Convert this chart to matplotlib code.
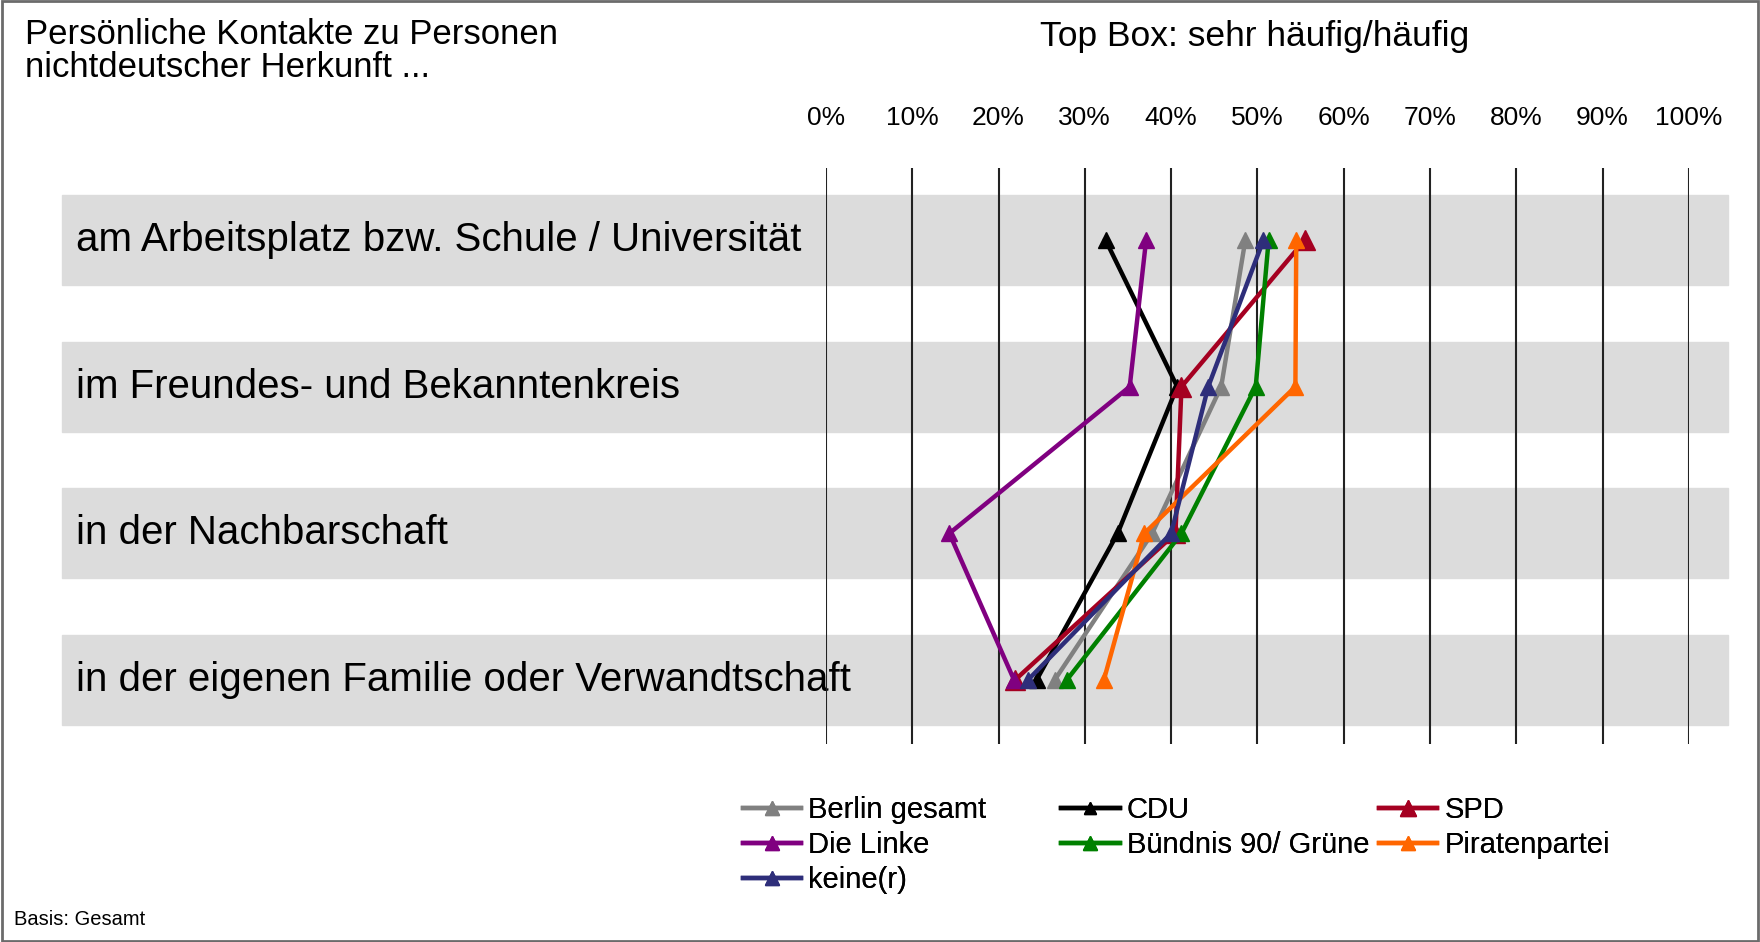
import matplotlib
matplotlib.use("Agg")
import matplotlib.pyplot as plt
from matplotlib.patches import Rectangle

plt.rcParams['font.family'] = ['Liberation Sans', 'DejaVu Sans']

# data (percent, top box "sehr häufig/häufig")
categories = [
    "am Arbeitsplatz bzw. Schule / Universität",
    "im Freundes- und Bekanntenkreis",
    "in der Nachbarschaft",
    "in der eigenen Familie oder Verwandtschaft",
]
berlin = [48.6, 45.8, 37.8, 26.5]
cdu = [32.4, 40.7, 33.8, 24.4]
spd = [55.5, 41.2, 40.5, 21.9]
linke = [37.1, 35.2, 14.3, 21.8]
gruene = [51.3, 49.8, 41.2, 27.9]
piraten = [54.5, 54.4, 36.9, 32.2]
keine = [50.7, 44.3, 40.0, 23.4]
xticks = [0, 10, 20, 30, 40, 50, 60, 70, 80, 90, 100]

series = [
    ("Berlin gesamt", berlin, "#808080", 12),
    ("CDU", cdu, "#000000", 11),
    ("SPD", spd, "#A50021", 14),
    ("Die Linke", linke, "#800080", 12),
    ("Bündnis 90/ Grüne", gruene, "#008000", 12),
    ("Piratenpartei", piraten, "#FF6600", 12),
    ("keine(r)", keine, "#2E2E7A", 12),
]

fig = plt.figure(figsize=(17.6, 9.42), dpi=100)
ax = fig.add_axes([0.4693, 0.2102, 0.4903, 0.6115])
ypos = list(range(len(categories)))
ax.set_xlim(0, 100)
ax.set_ylim(3.436, -0.491)

for y, cat in zip(ypos, categories):
    ax.axhspan(y - 0.307, y + 0.307, xmin=-0.885, xmax=1.045,
               color="#DCDCDC", zorder=0, clip_on=False)
    ax.text(-86.9, y, cat, fontsize=29, va="center", ha="left", zorder=1)

for t in xticks:
    ax.axvline(t, color="#222222", lw=1.5, zorder=1)

handles = {}
for name, vals, col, ms in series:
    h, = ax.plot(vals, ypos, color=col, lw=3.2, marker="^", markersize=ms,
                 zorder=3, label=name, clip_on=False)
    handles[name] = h

ax.set_xticks(xticks)
ax.set_xticklabels([f"{t}%" for t in xticks], fontsize=19)
ax.xaxis.tick_top()
ax.tick_params(axis="x", length=0, pad=27)
ax.set_yticks([])
for s in ax.spines.values():
    s.set_visible(False)

fig.text(0.014, 0.981, "Persönliche Kontakte zu Personen\nnichtdeutscher Herkunft ...",
         fontsize=25, va="top", ha="left", linespacing=1.02)
fig.text(0.713, 0.961, "Top Box: sehr häufig/häufig", fontsize=25.5, va="center", ha="center")
fig.text(0.008, 0.024, "Basis: Gesamt", fontsize=14.5, va="center", ha="left")

# legend: three columns, filled row by row
legend_cols = [
    (["Berlin gesamt", "Die Linke", "keine(r)"], 0.422),
    (["CDU", "Bündnis 90/ Grüne"], 0.603),
    (["SPD", "Piratenpartei"], 0.7835),
]
for names, x0 in legend_cols:
    leg = fig.legend([handles[n] for n in names], names, loc="upper left",
                     bbox_to_anchor=(x0, 0.155), frameon=False, fontsize=21,
                     handlelength=2.0, handletextpad=0.25, labelspacing=0.24,
                     borderpad=0, borderaxespad=0, markerscale=0.8)
    fig.add_artist(leg)

fig.add_artist(Rectangle((0.001, 0.001), 0.998, 0.998, transform=fig.transFigure,
                         fill=False, edgecolor="#6B6B6B", lw=2))

fig.savefig("out.png", dpi=100)
